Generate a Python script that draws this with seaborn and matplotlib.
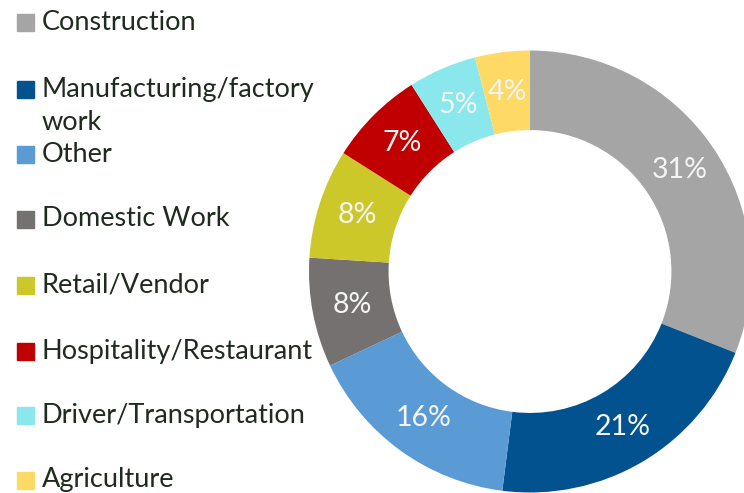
import matplotlib
matplotlib.use("Agg")
import matplotlib.pyplot as plt
from matplotlib.patches import Rectangle
import seaborn as sns

# data
categories = ["Construction", "Manufacturing/factory\nwork", "Other", "Domestic Work",
              "Retail/Vendor", "Hospitality/Restaurant", "Driver/Transportation", "Agriculture"]
shares = [31, 21, 16, 8, 8, 7, 5, 4]
colors = ["#A5A5A5", "#02528F", "#5B9BD5", "#767171", "#CDC82A", "#C00000", "#8AE8EC", "#FFD966"]

sns.set_theme(style="white")
plt.rcParams['font.family'] = ['Lato', 'DejaVu Sans']

W, H = 744, 493
fig = plt.figure(figsize=(W / 100, H / 100), dpi=100)

# donut, center (530, 271.5) px, radius 221 px
cx, cy, r = 530, 271.5, 221
ax = fig.add_axes([(cx - r) / W, (H - cy - r) / H, 2 * r / W, 2 * r / H])
wedges, texts, autotexts = ax.pie(
    shares, colors=colors, startangle=90, counterclock=False,
    autopct='%d%%', pctdistance=0.82,
    wedgeprops=dict(width=0.36, linewidth=0),
    textprops=dict(color="#F5F5F5", fontsize=20.5))
for w in wedges:
    w.set_clip_on(False)
ax.set_xlim(-1, 1)
ax.set_ylim(-1, 1)
ax.set_aspect('auto')
ax.axis('off')

# legend drawn by hand
text_color = "#1E2B1E"
legend_y = [22, 89, 154, 219, 285, 351, 415, 480]
for lab, col, y in zip(categories, colors, legend_y):
    fig.patches.append(Rectangle((17 / W, (H - y - 8.5) / H), 17 / W, 17 / H,
                                 transform=fig.transFigure, color=col))
    lines = lab.split("\n")
    for i, line in enumerate(lines):
        fig.text(42 / W, (H - y - i * 34) / H, line, fontsize=19.5, color=text_color,
                 va='center', ha='left')

fig.savefig("out.png", dpi=100)
